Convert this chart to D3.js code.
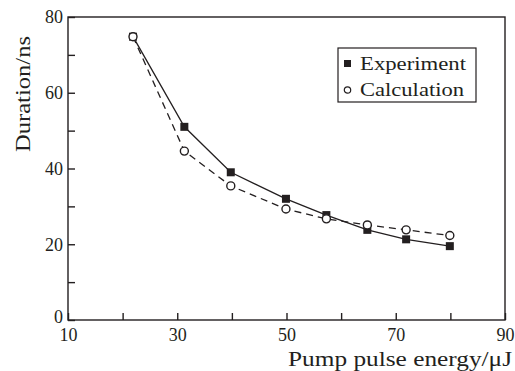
<!DOCTYPE html>
<html>
<head>
<meta charset="utf-8">
<script src="https://cdn.jsdelivr.net/npm/d3@7"></script>
<style>
  body { margin: 0; background: #fff; }
  svg text { font-family: "Liberation Serif", Tinos, "Times New Roman", Times, "DejaVu Serif", serif; fill: #231f20; }
</style>
</head>
<body>
<div class="canvas"></div>
<script>
// data
const energy = [21.9, 31.3, 39.8, 49.9, 57.3, 64.8, 71.9, 79.9]
const experiment = [74.8, 51, 39, 32, 27.7, 23.8, 21.3, 19.5]
const calculation = [74.8, 44.6, 35.4, 29.3, 26.7, 25.1, 23.8, 22.3]
const xTicks = [10, 20, 30, 40, 50, 60, 70, 80, 90]
const xLabels = [10, 30, 50, 70, 90]
const yTicks = [0, 10, 20, 30, 40, 50, 60, 70, 80]
const yLabels = [0, 20, 40, 60, 80]

// chart dimensions
const dimensions = {
  margin: { top: 17, right: 10, bottom: 51, left: 68 },
  chartWidth: 515,
  chartHeight: 371,
}
const graphWidth =
  dimensions.chartWidth - dimensions.margin.left - dimensions.margin.right
const graphHeight =
  dimensions.chartHeight - dimensions.margin.top - dimensions.margin.bottom

const ink = '#231f20'

const svg = d3
  .select('.canvas')
  .append('svg')
  .attr('width', dimensions.chartWidth)
  .attr('height', dimensions.chartHeight)

const graph = svg
  .append('g')
  .attr('transform', `translate(${dimensions.margin.left}, ${dimensions.margin.top})`)

// scales
const x = d3.scaleLinear().domain([10, 90]).range([0, graphWidth])
const y = d3.scaleLinear().domain([0, 80]).range([graphHeight, 0])

// frame
graph
  .append('rect')
  .attr('width', graphWidth)
  .attr('height', graphHeight)
  .attr('fill', 'none')
  .attr('stroke', ink)
  .attr('stroke-width', 1.4)

// axes: inward tick marks, labels on every other tick
const xAxis = d3
  .axisBottom(x)
  .tickValues(xTicks)
  .tickSizeInner(-7)
  .tickSizeOuter(0)
  .tickFormat((d) => (xLabels.includes(d) ? d : ''))
const yAxis = d3
  .axisLeft(y)
  .tickValues(yTicks)
  .tickSizeInner(-7)
  .tickSizeOuter(0)
  .tickFormat((d) => (yLabels.includes(d) ? d : ''))

const xAxisGroup = graph
  .append('g')
  .attr('transform', `translate(0, ${graphHeight})`)
  .call(xAxis)
const yAxisGroup = graph.append('g').call(yAxis)

;[xAxisGroup, yAxisGroup].forEach((g) => {
  g.attr('font-family', null).attr('font-size', 18)
  g.select('.domain').remove()
  g.selectAll('line').attr('stroke', ink).attr('stroke-width', 1.4)
  g.selectAll('text').attr('fill', ink)
})
xAxisGroup.selectAll('text').attr('y', 21).attr('dy', 0)
yAxisGroup.selectAll('text').attr('x', -5).attr('dy', '0.33em')
// the 0 label sits a little above its tick so it clears the 10 below
yAxisGroup
  .selectAll('text')
  .filter((d) => d === 0)
  .attr('dy', '0.15em')

// axis titles
svg
  .append('text')
  .attr('x', 400)
  .attr('y', 366)
  .attr('text-anchor', 'middle')
  .attr('font-size', 20)
  .attr('textLength', 224)
  .attr('lengthAdjust', 'spacingAndGlyphs')
  .text('Pump pulse energy/μJ')

svg
  .append('text')
  .attr('transform', 'translate(30, 94) rotate(-90)')
  .attr('text-anchor', 'middle')
  .attr('font-size', 20)
  .attr('textLength', 116)
  .attr('lengthAdjust', 'spacingAndGlyphs')
  .text('Duration/ns')

// lines
const line = (values) =>
  d3
    .line()
    .x((d, i) => x(energy[i]))
    .y((d) => y(d))(values)

graph
  .append('path')
  .attr('d', line(calculation))
  .attr('fill', 'none')
  .attr('stroke', ink)
  .attr('stroke-width', 1.3)
  .attr('stroke-dasharray', '7 5')

graph
  .append('path')
  .attr('d', line(experiment))
  .attr('fill', 'none')
  .attr('stroke', ink)
  .attr('stroke-width', 1.3)

// markers
const sq = 8
graph
  .selectAll('rect.exp')
  .data(experiment)
  .enter()
  .append('rect')
  .attr('class', 'exp')
  .attr('x', (d, i) => x(energy[i]) - sq / 2)
  .attr('y', (d) => y(d) - sq / 2)
  .attr('width', sq)
  .attr('height', sq)
  .attr('fill', ink)

graph
  .selectAll('circle.calc')
  .data(calculation)
  .enter()
  .append('circle')
  .attr('class', 'calc')
  .attr('cx', (d, i) => x(energy[i]))
  .attr('cy', (d) => y(d))
  .attr('r', 4)
  .attr('fill', '#fff')
  .attr('stroke', ink)
  .attr('stroke-width', 1.4)

// legend
const legend = svg.append('g').attr('transform', 'translate(338, 48)')
legend
  .append('rect')
  .attr('width', 138)
  .attr('height', 54)
  .attr('fill', '#fff')
  .attr('stroke', ink)
  .attr('stroke-width', 1.2)
legend
  .append('rect')
  .attr('x', 6)
  .attr('y', 12)
  .attr('width', 7)
  .attr('height', 7)
  .attr('fill', ink)
legend
  .append('circle')
  .attr('cx', 9.5)
  .attr('cy', 42)
  .attr('r', 3.2)
  .attr('fill', '#fff')
  .attr('stroke', ink)
  .attr('stroke-width', 1.2)
legend
  .append('text')
  .attr('x', 22)
  .attr('y', 22)
  .attr('font-size', 19)
  .attr('textLength', 106)
  .attr('lengthAdjust', 'spacingAndGlyphs')
  .text('Experiment')
legend
  .append('text')
  .attr('x', 22)
  .attr('y', 48)
  .attr('font-size', 19)
  .attr('textLength', 104)
  .attr('lengthAdjust', 'spacingAndGlyphs')
  .text('Calculation')
</script>
</body>
</html>
